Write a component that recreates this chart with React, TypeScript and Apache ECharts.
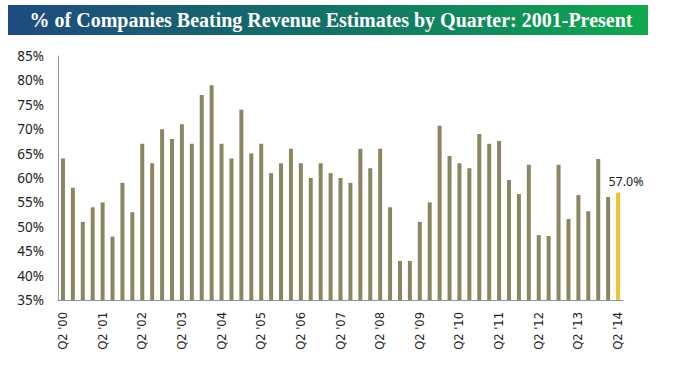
import React, { useEffect, useRef } from "react";
import * as echarts from "echarts";

const TITLE = "% of Companies Beating Revenue Estimates by Quarter: 2001-Present";

const years = ["00","01","02","03","04","05","06","07","08","09","10","11","12","13","14"];
const qs = ["Q1","Q2","Q3","Q4"];
// quarters from Q2 '00 through Q2 '14
const categories: string[] = [];
for (let y = 0; y < years.length; y++) {
  for (let q = 0; q < 4; q++) {
    if (y === 0 && q === 0) continue;
    if (y === years.length - 1 && q > 1) continue;
    categories.push(qs[q] + "'" + years[y]);
  }
}

const values = [
  64, 58, 51, 54, 55, 48, 59, 53, 67, 63, 70, 68, 71, 67, 77, 79,
  67, 64, 74, 65, 67, 61, 63, 66, 63, 60, 63, 61, 60, 59, 66, 62,
  66, 54, 43, 43, 51, 55, 70.7, 64.5, 63, 62, 69, 67, 67.6, 59.6,
  56.7, 62.7, 48.3, 48.1, 62.7, 51.6, 56.5, 53.2, 63.9, 56.1, 57.0,
];

const yTicks = { min: 35, max: 85, interval: 5 };

export default function App() {
  const ref = useRef<HTMLDivElement>(null);
  useEffect(() => {
    if (!ref.current) return;
    const chart = echarts.init(ref.current, null, { renderer: "svg" });
    const last = values.length - 1;
    chart.setOption({
      animation: false,
      backgroundColor: "#ffffff",
      graphic: [
        {
          type: "rect",
          shape: { x: 8, y: 5, width: 640, height: 30 },
          style: {
            fill: new echarts.graphic.LinearGradient(0, 0, 1, 0, [
              { offset: 0, color: "#1f4a7e" },
              { offset: 0.5, color: "#127167" },
              { offset: 1, color: "#0fa84e" },
            ]),
          },
          silent: true,
        },
        {
          type: "text",
          x: 331,
          y: 20,
          style: {
            text: TITLE,
            fill: "#ffffff",
            font: "bold 20px 'Liberation Serif', serif",
            align: "center",
            verticalAlign: "middle",
          },
          silent: true,
        },
      ],
      grid: { left: 58, right: 51, top: 56, bottom: 66, containLabel: false },
      xAxis: {
        type: "category",
        data: categories,
        axisLine: { show: true, lineStyle: { color: "#8a96a8", width: 1 } },
        axisTick: { show: false },
        axisLabel: {
          interval: 3,
          rotate: 90,
          color: "#222",
          fontFamily: "DejaVu Sans",
          fontSize: 11.5,
          margin: 12,
          formatter: (v: string) => v.replace("'", " '"),
        },
      },
      yAxis: {
        type: "value",
        min: yTicks.min,
        max: yTicks.max,
        interval: yTicks.interval,
        axisLine: { show: true, lineStyle: { color: "#8a96a8", width: 1 } },
        axisTick: { show: false },
        splitLine: { show: false },
        axisLabel: {
          formatter: (v: number) => v + "%",
          color: "#222",
          fontFamily: "Noto Sans",
          fontSize: 13.5,
          margin: 14,
        },
      },
      series: [
        {
          type: "bar",
          barWidth: 4,
          data: values.map((v, i) =>
            i === last
              ? {
                  value: v,
                  itemStyle: { color: "#f0c232" },
                  label: {
                    show: true,
                    position: "top",
                    offset: [8, 0],
                    formatter: (p: any) => Number(p.value).toFixed(1) + "%",
                    color: "#222",
                    fontFamily: "Noto Sans",
                    fontSize: 12.5,
                  },
                }
              : { value: v }
          ),
          itemStyle: { color: "#8b8660" },
        },
      ],
    });
    return () => chart.dispose();
  }, []);
  return (
    <div
      ref={ref}
      style={{ position: "absolute", left: 0, top: 0, width: 674, height: 366 }}
    />
  );
}
